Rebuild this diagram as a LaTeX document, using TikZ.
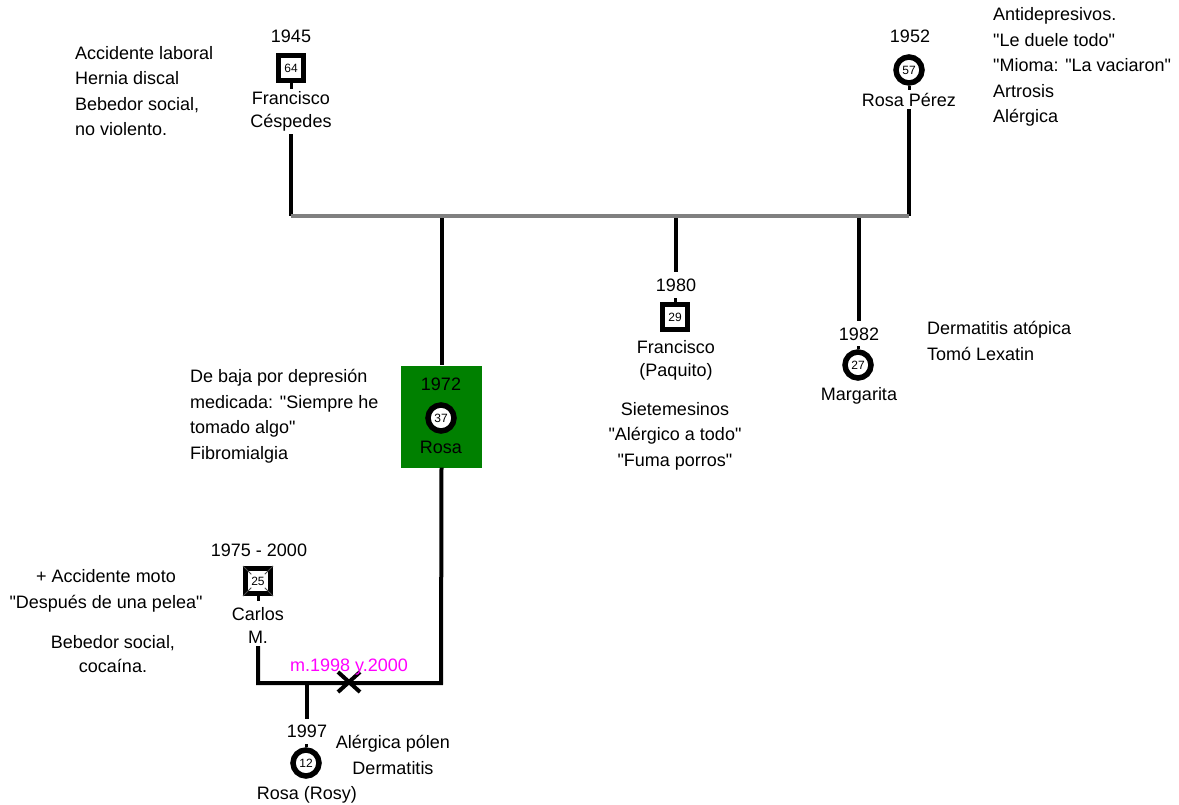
\documentclass[tikz,border=0pt]{standalone}
\usepackage{fontspec}
\setmainfont{Liberation Sans}[Ligatures=TeXOff]
\usetikzlibrary{shapes.misc,calc}

\definecolor{verde}{RGB}{0,128,0}
\definecolor{gris}{RGB}{128,128,128}
\definecolor{rosado}{RGB}{255,0,255}
\newcommand\cq{\char34\relax}

\tikzset{
  txt/.style={font=\fontsize{18}{25.5}\selectfont, inner sep=0pt},
  nom/.style={txt, align=center, font=\fontsize{18}{23}\selectfont},
  nota/.style={txt, align=left},
  hombre/.style={draw, line width=5pt, minimum size=25pt, inner sep=0pt, fill=white,
    font=\fontsize{12}{12}\selectfont},
  mujer/.style={hombre, circle, minimum size=26pt, line width=5.5pt},
  rel/.style={line width=4pt},
  pareja/.style={line width=4pt, gris},
  rabo/.style={line width=3pt},
}

\begin{document}
\begin{tikzpicture}[x=1pt,y=-1pt]
\useasboundingbox (0,0) rectangle (1179,805);

% Abuelos
\node[txt] (y1945) at (291,36) {1945};
\node[hombre] (francisco) at (291,68) {64};
\node[nom] (franciscon) at (291,111) {Francisco\\Céspedes};
\draw[rabo] (francisco.south) -- ++(0,6);
\node[txt] (y1952) at (910,36) {1952};
\node[mujer] (rosap) at (909,70) {57};
\node[nom] (rosapn) at (909,100) {Rosa Pérez};
\draw[rabo] (rosap.south) -- ++(0,4);
\node[nota, anchor=west] (notaf) at (75,91) {Accidente laboral\\Hernia discal\\Bebedor social,\\no violento.};
\node[nota, anchor=west] (notarp) at (993,67) {Antidepresivos.\\\cq Le duele todo\cq\\\cq Mioma: \cq La vaciaron\cq\\Artrosis\\Alérgica};

% Union
\coordinate (uf) at (291,216);
\coordinate (ur) at (909,216);
\draw[rel, shorten <=3pt] (franciscon.south) -- (uf);
\draw[rel, shorten <=2pt] (rosapn.south) -- (ur);

% Hijos
\node[fill=verde, minimum width=81pt, minimum height=102pt, inner sep=0pt] (caja) at (441.5,416.5) {};
\node[txt] (y1972) at (441,384) {1972};
\node[mujer] (rosa) at (441,418) {37};
\node[txt] (rosan) at (441,447) {Rosa};
\draw[rel] (caja.north |- uf) -- (caja.north);

\node[txt] (y1980) at (676,285) {1980};
\node[hombre] (paquito) at (675,317) {29};
\node[nom] (paquiton) at (676,360) {Francisco\\(Paquito)};
\draw[rabo] (paquito.north) -- ++(0,-4);
\draw[rel, shorten >=6pt] (y1980.north |- uf) -- (y1980.north);

\node[txt] (y1982) at (859,334) {1982};
\node[mujer] (marga) at (858,365) {27};
\node[txt] (margan) at (859,396) {Margarita};
\draw[rabo] (marga.north) -- ++(0,-3);
\draw[rel, shorten >=6pt] (y1982.north |- uf) -- (y1982.north);

\draw[pareja] (uf) -- (ur);

\node[nota, anchor=west] (notar) at (190,416) {De baja por depresión\\medicada: \cq Siempre he\\tomado algo\cq\\Fibromialgia};
\node[txt, align=center] (notap) at (675,436) {Sietemesinos\\\cq Alérgico a todo\cq\\\cq Fuma porros\cq};
\node[nota, anchor=west] (notam) at (927,341) {Dermatitis atópica\\Tomó Lexatin};

% Carlos
\node[txt] (y1975) at (259,550) {1975 - 2000};
\node[hombre] (carlos) at (258,581) {25};
\foreach \e in {north west, north east, south west, south east}
  \draw[line width=0.8pt, black!70] (carlos.\e) -- ($(carlos.center)!0.45!(carlos.\e)$);
\draw[rabo] (carlos.south) -- ++(0,5);
\node[nom] (carlosn) at (258,625) {Carlos\\M.};
\node[txt, align=center] (notac1) at (106,591) {+ Accidente moto\\\cq Después de una pelea\cq};
\node[txt, align=center, font=\fontsize{18}{24}\selectfont] (notac2) at (113,654) {Bebedor social,\\cocaína.};

% Union Rosa - Carlos
\coordinate (uc) at (258,683);
\coordinate (urs) at (441,683);
\draw[rel, shorten <=3pt] (carlosn.south) -- (uc) -- (urs) -- (caja.south);
\node[cross out, draw, line width=4pt, minimum width=18pt, minimum height=16pt, inner sep=0pt] (div) at (349,682) {};
\node[txt, rosado] (fechas) at (349,667) {m.1998 y.2000};

% Nieta
\coordinate (uh) at (307,683);
\node[txt] (y1997) at (307,731) {1997};
\node[mujer] (rosy) at (306,763) {12};
\node[txt] (rosyn) at (307,795) {Rosa (Rosy)};
\draw[rabo] (rosy.north) -- ++(0,-3);
\draw[rel, shorten >=5pt] (uh) -- (y1997.north);
\node[txt, align=center] (notary) at (393,755) {Alérgica pólen\\Dermatitis};
\end{tikzpicture}
\end{document}
